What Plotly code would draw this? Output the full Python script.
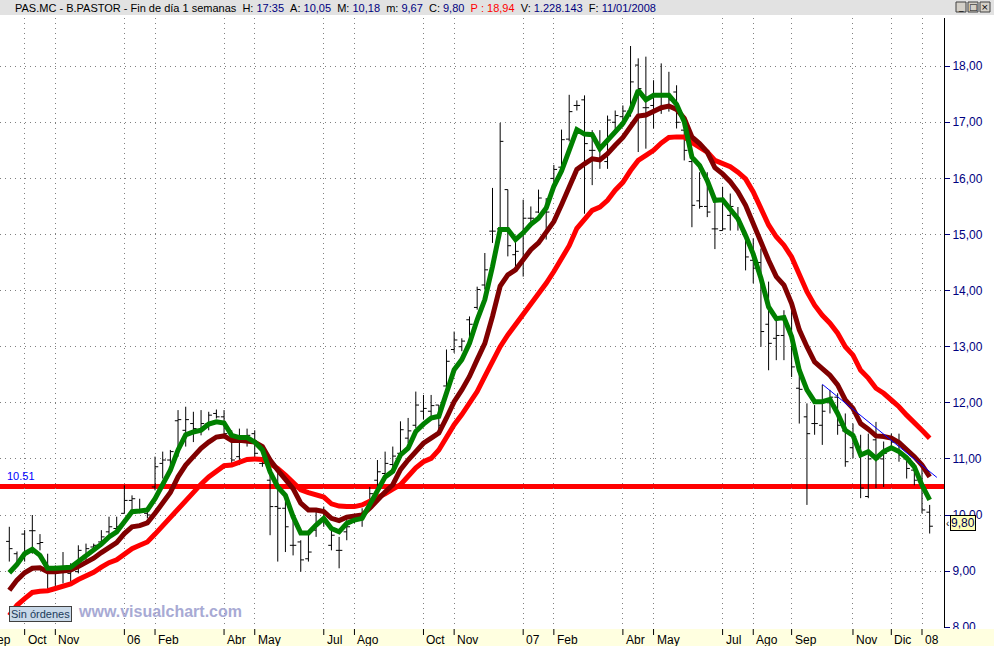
import pandas as pd
import plotly.graph_objects as go

# ---------------- data (weekly bars, PAS.MC - B.PASTOR) ----------------
first_week = "2005-09-23"

open_ = [9.53, 9.31, 9.66, 9.72, 9.49, 9.08, 9.08, 8.99, 8.96, 8.99,
         9.28, 9.43, 9.52, 9.70, 9.76, 10.03, 10.26, 10.09, 10.03, 10.50,
         10.92, 10.98, 11.68, 11.51, 11.63, 11.51, 11.63, 11.81, 11.75, 11.36,
         11.04, 11.33, 11.45, 10.92, 10.62, 10.15, 10.12, 9.46, 9.52, 9.22,
         9.73, 9.91, 9.46, 9.37, 9.70, 9.91, 9.97, 10.15, 10.62, 10.74,
         10.90, 11.10, 11.37, 11.60, 11.85, 11.85, 11.96, 12.30, 12.95, 13.00,
         13.48, 13.70, 14.10, 15.06, 15.10, 15.80, 14.64, 14.50, 15.29, 15.40,
         15.44, 16.00, 16.20, 16.70, 17.30, 17.40, 16.50, 16.56, 16.30, 17.00,
         17.10, 17.20, 18.02, 17.26, 17.30, 17.21, 17.50, 17.54, 16.86, 16.30,
         15.60, 15.50, 15.10, 15.07, 15.34, 15.30, 15.00, 14.54, 14.50, 13.40,
         13.15, 13.20, 13.30, 12.26, 11.75, 11.63, 11.60, 12.00, 12.10, 11.50,
         11.20, 11.20, 10.33, 11.34, 11.00, 11.20, 11.30, 11.00, 10.80, 10.60,
         10.05]

high = [9.79, 9.35, 9.73, 10.00, 9.66, 9.31, 9.10, 9.34, 9.14, 9.46,
        9.49, 9.49, 9.73, 9.97, 9.97, 10.53, 10.35, 10.29, 10.06, 11.04,
        11.13, 11.16, 11.87, 11.93, 11.84, 11.87, 11.84, 11.88, 11.87, 11.51,
        11.54, 11.54, 11.51, 10.98, 10.80, 10.80, 10.24, 9.91, 9.55, 9.67,
        10.06, 10.15, 9.79, 9.61, 9.91, 10.00, 10.12, 10.50, 10.98, 11.13,
        11.22, 11.67, 11.73, 12.20, 12.14, 12.14, 11.96, 12.95, 13.27, 13.15,
        13.54, 14.07, 14.67, 15.83, 16.99, 15.80, 14.91, 15.62, 15.50, 15.80,
        15.65, 16.24, 16.87, 17.49, 17.39, 17.48, 16.86, 16.86, 17.12, 17.21,
        17.30, 18.36, 18.14, 18.17, 17.75, 18.05, 17.90, 17.66, 16.86, 16.35,
        16.11, 16.11, 15.58, 15.85, 15.73, 15.49, 15.07, 14.93, 14.75, 14.16,
        13.53, 13.65, 13.71, 12.58, 11.99, 11.96, 12.32, 12.23, 12.17, 11.81,
        11.63, 11.43, 11.45, 11.66, 11.31, 11.45, 11.45, 11.07, 10.92, 10.83,
        10.18]

low = [9.17, 9.11, 9.17, 9.31, 9.37, 8.63, 8.72, 8.78, 8.78, 8.96,
       9.17, 9.37, 9.43, 9.61, 9.67, 10.03, 10.09, 10.03, 9.94, 10.44,
       10.65, 10.89, 11.04, 11.22, 11.30, 11.42, 11.51, 11.72, 11.39, 10.86,
       10.89, 11.22, 10.98, 10.86, 9.64, 9.17, 9.34, 9.28, 8.99, 9.17,
       9.61, 9.79, 9.37, 9.05, 9.55, 9.85, 9.79, 10.09, 10.44, 10.62,
       10.80, 10.98, 11.28, 11.55, 11.70, 11.76, 11.52, 12.23, 12.89, 12.92,
       13.06, 13.66, 14.02, 14.85, 15.09, 14.61, 14.37, 14.25, 15.20, 15.38,
       14.91, 15.80, 16.13, 16.66, 17.21, 15.37, 15.88, 16.17, 16.17, 16.80,
       16.92, 17.10, 16.47, 16.53, 16.89, 17.15, 17.19, 16.89, 16.32, 15.13,
       15.46, 15.31, 14.74, 15.07, 15.07, 15.07, 14.36, 14.13, 13.00, 12.58,
       12.76, 12.76, 12.46, 11.63, 10.18, 11.43, 11.25, 11.81, 11.43, 10.86,
       11.01, 10.30, 10.30, 10.48, 10.50, 11.16, 10.95, 10.65, 10.53, 10.03,
       9.67]

close = [9.40, 9.15, 9.31, 9.72, 9.51, 8.96, 9.05, 9.05, 9.01, 9.37,
         9.40, 9.46, 9.61, 9.79, 9.79, 10.26, 10.29, 10.06, 10.00, 10.86,
         10.98, 11.13, 11.70, 11.70, 11.54, 11.63, 11.78, 11.75, 11.45, 10.98,
         11.39, 11.42, 11.10, 10.92, 10.15, 10.12, 9.79, 9.46, 9.20, 9.34,
         9.85, 9.91, 9.64, 9.37, 9.79, 9.97, 10.00, 10.38, 10.77, 10.92,
         11.05, 11.52, 11.50, 11.96, 11.90, 11.95, 11.60, 12.74, 13.12, 13.10,
         13.40, 14.02, 14.37, 15.06, 16.66, 14.80, 14.70, 15.29, 15.29, 15.65,
         15.40, 16.16, 16.69, 17.19, 17.30, 16.62, 16.50, 16.60, 17.04, 17.12,
         17.20, 17.72, 17.60, 17.26, 17.20, 17.50, 17.40, 17.00, 16.50, 15.52,
         15.50, 15.40, 15.10, 15.10, 15.50, 15.20, 14.60, 14.40, 13.27, 13.06,
         13.20, 13.46, 12.64, 12.24, 11.45, 11.63, 11.85, 12.10, 11.60, 10.95,
         11.40, 10.48, 11.00, 11.00, 11.10, 11.30, 11.07, 10.83, 10.62, 10.09,
         9.80]

ma_fast = [8.97, 9.12, 9.31, 9.39, 9.28, 9.05, 9.05, 9.06, 9.07, 9.17,
           9.27, 9.36, 9.48, 9.61, 9.70, 9.88, 10.06, 10.07, 10.09, 10.29,
           10.56, 10.80, 11.16, 11.43, 11.48, 11.51, 11.62, 11.66, 11.64, 11.42,
           11.38, 11.38, 11.30, 11.16, 10.77, 10.50, 10.35, 9.97, 9.68, 9.68,
           9.82, 9.94, 9.76, 9.70, 9.85, 9.91, 9.94, 10.18, 10.42, 10.68,
           10.78, 11.07, 11.19, 11.49, 11.62, 11.73, 11.76, 12.17, 12.59, 12.77,
           13.06, 13.48, 13.84, 14.43, 15.09, 15.09, 14.91, 15.03, 15.18, 15.29,
           15.47, 15.86, 16.13, 16.50, 16.87, 16.79, 16.78, 16.53, 16.68, 16.83,
           16.98, 17.21, 17.57, 17.40, 17.48, 17.48, 17.48, 17.32, 17.01, 16.38,
           16.23, 15.96, 15.61, 15.62, 15.46, 15.28, 14.98, 14.65, 14.22, 13.71,
           13.50, 13.52, 13.18, 12.58, 12.23, 12.02, 12.02, 12.06, 11.81, 11.51,
           11.42, 11.07, 11.13, 11.01, 11.13, 11.20, 11.13, 11.02, 10.86, 10.53,
           10.27]

ma_mid = [8.66, 8.84, 8.97, 9.05, 9.06, 8.99, 8.99, 9.01, 9.02, 9.08,
          9.15, 9.23, 9.33, 9.43, 9.51, 9.67, 9.79, 9.81, 9.86, 10.03,
          10.21, 10.40, 10.68, 10.89, 11.04, 11.19, 11.30, 11.39, 11.41, 11.33,
          11.33, 11.32, 11.30, 11.22, 10.98, 10.80, 10.65, 10.47, 10.21, 10.09,
          10.09, 10.06, 9.94, 9.90, 9.96, 9.98, 10.00, 10.12, 10.28, 10.41,
          10.54, 10.81, 10.98, 11.13, 11.28, 11.37, 11.46, 11.73, 12.02, 12.23,
          12.47, 12.77, 13.06, 13.54, 14.08, 14.28, 14.37, 14.55, 14.73, 14.85,
          15.03, 15.23, 15.53, 15.85, 16.16, 16.26, 16.35, 16.33, 16.44, 16.59,
          16.73, 16.92, 17.11, 17.13, 17.20, 17.26, 17.29, 17.23, 17.07, 16.74,
          16.62, 16.47, 16.19, 16.08, 15.94, 15.76, 15.52, 15.19, 14.85, 14.54,
          14.25, 14.10, 13.77, 13.30, 13.00, 12.73, 12.61, 12.49, 12.32, 12.05,
          11.90, 11.63, 11.53, 11.41, 11.40, 11.37, 11.29, 11.17, 11.04, 10.89,
          10.68]

ma_slow = [8.21, 8.39, 8.51, 8.62, 8.64, 8.65, 8.69, 8.74, 8.77, 8.85,
           8.91, 8.98, 9.07, 9.15, 9.20, 9.31, 9.40, 9.46, 9.52, 9.66,
           9.81, 9.97, 10.12, 10.28, 10.42, 10.55, 10.68, 10.79, 10.88, 10.89,
           10.95, 10.99, 11.00, 10.99, 10.91, 10.83, 10.71, 10.59, 10.45, 10.40,
           10.35, 10.32, 10.20, 10.16, 10.15, 10.15, 10.18, 10.24, 10.30, 10.38,
           10.46, 10.54, 10.69, 10.84, 10.95, 11.01, 11.16, 11.40, 11.61, 11.79,
           11.99, 12.20, 12.47, 12.74, 13.00, 13.21, 13.39, 13.60, 13.78, 13.94,
           14.13, 14.34, 14.58, 14.80, 15.11, 15.28, 15.43, 15.49, 15.61, 15.79,
           15.93, 16.14, 16.32, 16.41, 16.50, 16.63, 16.73, 16.74, 16.74, 16.64,
           16.56, 16.47, 16.32, 16.26, 16.21, 16.11, 15.99, 15.76, 15.46, 15.17,
           14.96, 14.81, 14.60, 14.28, 13.98, 13.74, 13.56, 13.42, 13.24, 13.00,
           12.85, 12.58, 12.44, 12.26, 12.17, 12.05, 11.93, 11.78, 11.63, 11.51,
           11.37]

level_value = 10.51
level_label = "10.51"
last_close = 9.80
last_close_label = "9,80"

trend_dates = ["2007-10-05 00:00", "2008-01-17 14:00"]
trend_values = [12.33, 10.67]

tick_dates = ["2005-09-02", "2005-10-07", "2005-11-04", "2006-01-06", "2006-02-03",
              "2006-04-07", "2006-05-05", "2006-07-07", "2006-08-04", "2006-10-06",
              "2006-11-03", "2007-01-05", "2007-02-02", "2007-04-06", "2007-05-04",
              "2007-07-06", "2007-08-03", "2007-09-07", "2007-11-02", "2007-12-07",
              "2008-01-04"]
tick_labels = ["Sep", "Oct", "Nov", "06", "Feb", "Abr", "May", "Jul", "Ago", "Oct",
               "Nov", "07", "Feb", "Abr", "May", "Jul", "Ago", "Sep", "Nov", "Dic",
               "08"]
y_ticks = [8, 9, 10, 11, 12, 13, 14, 15, 16, 17, 18]

x_range = ["2005-09-14 12:00", "2008-01-24 02:00"]
y_range = [7.986, 18.859]

n = len(close)
assert all(len(a) == n for a in [open_, high, low, ma_fast, ma_mid, ma_slow])
dates = pd.date_range(first_week, periods=n, freq="7D")

NAVY = "#000080"
FONT = "Liberation Sans, Arial, sans-serif"

fig = go.Figure()
fig.add_trace(go.Ohlc(
    x=dates, open=open_, high=high, low=low, close=close,
    increasing=dict(line=dict(color="black", width=1)),
    decreasing=dict(line=dict(color="black", width=1)),
    tickwidth=0.42, hoverinfo="skip", showlegend=False))
for vals, col in [(ma_slow, "#FF0000"), (ma_mid, "#800000"), (ma_fast, "#008000")]:
    fig.add_trace(go.Scatter(x=dates, y=vals, mode="lines",
                             line=dict(color=col, width=5),
                             hoverinfo="skip", showlegend=False))
fig.add_trace(go.Scatter(x=trend_dates, y=trend_values, mode="lines",
                         line=dict(color="#0000FF", width=1),
                         hoverinfo="skip", showlegend=False))

shapes = []
# horizontal level line
shapes.append(dict(type="line", xref="paper", x0=0, x1=1, yref="y",
                   y0=level_value, y1=level_value,
                   line=dict(color="#FF0000", width=5), layer="between"))
# header band
shapes.append(dict(type="rect", xref="paper", x0=0, x1=1.06,
                   yref="paper", ysizemode="pixel", yanchor=1, y0=3, y1=19,
                   fillcolor="#E2E2E2", line=dict(width=0), layer="above"))
# bottom date band
shapes.append(dict(type="rect", xref="paper", x0=0, x1=1.06,
                   yref="paper", ysizemode="pixel", yanchor=0, y0=-1, y1=-20,
                   fillcolor="#FFFFE0", line=dict(width=0), layer="above"))
# x tick marks
for d in tick_dates:
    shapes.append(dict(type="line", xref="x", x0=d, x1=d,
                       yref="paper", ysizemode="pixel", yanchor=0, y0=-1, y1=-7,
                       line=dict(color="black", width=1), layer="above"))
# window buttons
for k in range(3):
    shapes.append(dict(type="rect", xref="paper", xsizemode="pixel", xanchor=1,
                       x0=12 + 12 * k, x1=22 + 12 * k,
                       yref="paper", ysizemode="pixel", yanchor=1, y0=6, y1=16,
                       fillcolor="#D4D0C8", line=dict(color="#404040", width=1),
                       layer="above"))

t0 = pd.Timestamp(x_range[0])
t1 = pd.Timestamp(x_range[1])


def xpaper(d):
    return (pd.Timestamp(d) - t0) / (t1 - t0)


ann = []
for d, lab in zip(tick_dates, tick_labels):
    ann.append(dict(x=xpaper(d), xref="paper", xanchor="left", xshift=1,
                    y=0, yref="paper", yanchor="top", yshift=-3,
                    text=lab, showarrow=False,
                    font=dict(family=FONT, size=12, color="black")))

nb = "\u00a0"
sp = nb * 2


def nv(t, c=NAVY):
    return f"<span style='color:{c}'>{t}</span>"


title = ("PAS.MC - B.PASTOR - Fin de día 1 semanas" + sp +
         "H:" + nb + nv("17:35") + sp + "A:" + nb + nv("10,05") + sp +
         "M:" + nb + nv("10,18") + sp + "m:" + nb + nv("9,67") + sp +
         "C:" + nb + nv("9,80") + sp + nv("P" + nb + ":" + nb + "18,94", "#FF0000") + sp +
         "V:" + nb + nv("1.228.143") + sp + "F:" + nb + nv("11/01/2008"))
ann.append(dict(x=13 / 944, xref="paper", xanchor="left", y=1, yref="paper",
                yanchor="middle", yshift=10, text=title, showarrow=False,
                font=dict(family=FONT, size=11, color="black")))
for k, g in enumerate(["_", "□", "×"]):
    ann.append(dict(x=1, xref="paper", xanchor="center", xshift=17 + 12 * k,
                    y=1, yref="paper", yanchor="middle", yshift=11,
                    text=g, showarrow=False,
                    font=dict(family="DejaVu Sans", size=9, color="black")))

ann.append(dict(x=0.005, xref="paper", xanchor="left", y=level_value, yref="y",
                yanchor="bottom", yshift=2, text=level_label, showarrow=False,
                font=dict(family=FONT, size=11, color="#0000FF")))
ann.append(dict(x=1, xref="paper", xanchor="left", xshift=6, y=last_close, yref="y",
                yanchor="middle", yshift=3, text=last_close_label, showarrow=False,
                bgcolor="#FFFFB8", bordercolor="black", borderwidth=1, borderpad=0,
                font=dict(family=FONT, size=12, color="#000050")))
ann.append(dict(x=1, xref="paper", xanchor="left", xshift=0, y=last_close, yref="y",
                yanchor="middle", yshift=3, text="‹", showarrow=False,
                font=dict(family=FONT, size=10, color="black")))
ann.append(dict(x=9 / 944, xref="paper", xanchor="left", y=0, yref="paper",
                yanchor="bottom", yshift=6, text="Sin órdenes", showarrow=False,
                bgcolor="#C8D8E8", bordercolor="#404040", borderwidth=1, borderpad=1,
                font=dict(family=FONT, size=11, color="#1A3A5A")))
ann.append(dict(x=76 / 944, xref="paper", xanchor="left", y=0, yref="paper",
                yanchor="bottom", yshift=6, text="<b>www.visualchart.com</b>",
                showarrow=False, font=dict(family=FONT, size=16, color="#A8AAD4")))

fig.update_layout(
    width=994, height=646,
    margin=dict(l=0, r=50, t=18, b=18, pad=0),
    paper_bgcolor="white", plot_bgcolor="white",
    separators=",.",
    font=dict(family=FONT, size=12, color="black"),
    showlegend=False, hovermode=False,
    xaxis=dict(type="date", range=x_range, tickvals=tick_dates,
               showticklabels=False, ticks="", showgrid=True,
               gridcolor="#808080", griddash="1px,4px", gridwidth=1,
               showline=False, zeroline=False,
               rangeslider=dict(visible=False)),
    yaxis=dict(side="right", range=y_range, tickvals=y_ticks, tickformat=".2f",
               ticks="outside", ticklen=5, tickcolor=NAVY,
               tickfont=dict(family=FONT, size=12, color=NAVY),
               showgrid=True, gridcolor="#808080", griddash="1px,4px",
               showline=True, linecolor="black", linewidth=1, zeroline=False),
    shapes=shapes, annotations=ann,
)

fig.write_html("out.html", config={"displayModeBar": False},
               post_script="document.body.style.margin='0';")
